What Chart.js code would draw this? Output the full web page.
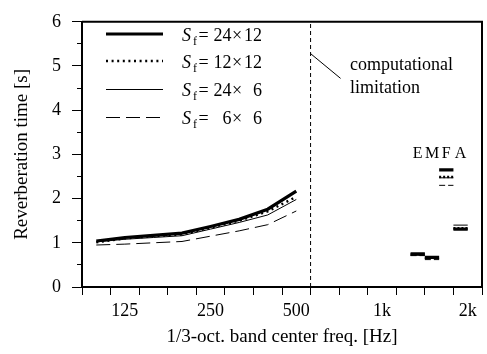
<!DOCTYPE html>
<html><head><meta charset="utf-8">
<script src="https://cdn.jsdelivr.net/npm/chart.js@4/dist/chart.umd.min.js"></script>
<style>html,body{margin:0;padding:0;background:#fff}canvas{display:block}</style>
</head><body>
<canvas id="c" width="487" height="354"></canvas>
<script>
// 1/3-octave bands (x axis categories)
const bands = ['100','125','160','200','250','315','400','500','630','800','1k','1.25k','1.6k','2k'];
const shownTickLabels = ['125','250','500','1k','2k'];
const yTicks = [0,1,2,3,4,5,6];

// Simulated reverberation time [s] at 100 ... 500 Hz
const sim24x12 = [1.04, 1.12, 1.17, 1.22, 1.37, 1.53, 1.76, 2.17];
const sim12x12 = [1.01, 1.10, 1.15, 1.19, 1.34, 1.50, 1.71, 2.04];
const sim24x6  = [1.02, 1.08, 1.12, 1.16, 1.31, 1.46, 1.63, 1.98];
const sim6x6   = [0.95, 0.97, 1.00, 1.03, 1.15, 1.27, 1.41, 1.72];

// Short marks E, M, F, A
const emfaLabels = ['E','M','F','A'];
const emfa24x12 = [0.75, 0.67, 2.65, 1.31];
const emfa12x12 = [0.74, 0.66, 2.49, 1.33];
const emfa24x6  = [0.72, 0.65, 2.47, 1.40];
const emfa6x6   = [0.71, 0.62, 2.30, 1.31];

// legend texts
const legendA = ['24','12','24','6'];
const legendB = ['12','12','6','6'];

// computational limitation band edge (between 500 and 630)
const limitEdge = bands.indexOf('630');
const limitText = ['computational','limitation'];

const FONT = "'Liberation Serif','Times New Roman',serif";
const styles = [
  {w:3.2, dash:[]},
  {w:2.4, dash:[2,3.6]},
  {w:1, dash:[]},
  {w:1, dash:[14,6]}
];
const simSeries = [sim24x12, sim12x12, sim24x6, sim6x6];
const emfaSeries = [emfa24x12, emfa12x12, emfa24x6, emfa6x6];

const datasets = [];
simSeries.forEach((s, k) => {
  datasets.push({
    data: s.map((v, i) => ({x: i + 0.5, y: v})),
    borderColor: '#000', borderWidth: styles[k].w, borderDash: styles[k].dash,
    pointRadius: 0, tension: 0, fill: false
  });
});
const emfaStart = bands.indexOf('1.25k') + 0.5;
emfaSeries.forEach((s, k) => {
  s.forEach((v, i) => {
    datasets.push({
      data: [{x: emfaStart + 0.5 * i, y: v}, {x: emfaStart + 0.5 * i + 0.5, y: v}],
      borderColor: '#000', borderWidth: styles[k].w, borderDash: k === 3 ? [6,3] : (k === 1 ? [2,2] : []),
      pointRadius: 0, tension: 0
    });
  });
});
// limitation line
datasets.push({
  data: [{x: limitEdge, y: 0}, {x: limitEdge, y: 6}],
  borderColor: '#000', borderWidth: 1, borderDash: [4, 3], pointRadius: 0
});
// leader line
datasets.push({
  data: [{x: limitEdge, y: 5.28}, {x: limitEdge + 1.05, y: 4.72}],
  borderColor: '#000', borderWidth: 1, pointRadius: 0
});

const xTickVals = [];
for (let i = 0; i <= bands.length * 2; i++) xTickVals.push(i / 2);
const yTickVals = [];
for (let i = 0; i <= 12; i++) yTickVals.push(i / 2);

const extras = {
  id: 'extras',
  afterDatasetsDraw(chart) {
    const {ctx, chartArea: a, scales: {x, y}} = chart;
    ctx.save();
    // frame top/right
    ctx.strokeStyle = '#000'; ctx.lineWidth = 2;
    ctx.beginPath();
    ctx.moveTo(a.left, a.top); ctx.lineTo(a.right, a.top); ctx.lineTo(a.right, a.bottom);
    ctx.stroke();
    // legend
    const rows = [34, 61, 89, 117];
    rows.forEach((ry, k) => {
      const ly = styles[k].w < 2 ? ry + 0.5 : ry;
      ctx.beginPath();
      ctx.lineWidth = styles[k].w; ctx.setLineDash(styles[k].dash);
      ctx.moveTo(106, ly); ctx.lineTo(163, ly); ctx.stroke();
      ctx.setLineDash([]);
      ctx.fillStyle = '#000';
      ctx.textBaseline = 'alphabetic';
      ctx.textAlign = 'left';
      ctx.font = 'italic 18px ' + FONT;
      ctx.fillText('S', 182, ry + 7);
      ctx.font = '12px ' + FONT;
      ctx.fillText('f', 193, ry + 11);
      ctx.font = '18px ' + FONT;
      ctx.fillText('=', 198.5, ry + 7);
      ctx.textAlign = 'right';
      ctx.fillText(legendA[k], 231.5, ry + 7);
      ctx.textAlign = 'center';
      ctx.fillText('×', 237, ry + 7);
      ctx.textAlign = 'right';
      ctx.fillText(legendB[k], 262, ry + 7);
    });
    // annotation
    ctx.textAlign = 'left';
    ctx.font = '18px ' + FONT;
    ctx.fillText(limitText[0], 350, 70);
    ctx.fillText(limitText[1], 350, 93);
    // EMFA labels
    ctx.font = '16px ' + FONT;
    ctx.textAlign = 'center';
    emfaLabels.forEach((l, i) => {
      ctx.fillText(l, x.getPixelForValue(emfaStart + 0.5 * i + 0.25), 158);
    });
    ctx.restore();
  }
};

new Chart(document.getElementById('c'), {
  type: 'line',
  data: {datasets},
  plugins: [extras],
  options: {
    responsive: false, devicePixelRatio: 1, animation: false,
    layout: {padding: {left: 0, top: 16, right: 1.5, bottom: 0}},
    plugins: {legend: {display: false}, tooltip: {enabled: false}},
    elements: {line: {borderCapStyle: 'butt', borderJoinStyle: 'miter'}},
    scales: {
      x: {
        type: 'linear', min: 0, max: bands.length,
        afterBuildTicks: s => { s.ticks = xTickVals.map(v => ({value: v})); },
        afterFit: s => { s.height = 67; },
        border: {color: '#000', width: 2},
        grid: {drawOnChartArea: false, tickLength: 8, tickWidth: 1,
               tickColor: c => (c.tick && Number.isInteger(c.tick.value)) ? '#000' : 'rgba(0,0,0,0)'},
        ticks: {autoSkip: false, maxRotation: 0, padding: 5, color: '#000',
                font: {family: FONT, size: 18},
                callback: v => {
                  if (Number.isInteger(v)) return '';
                  const lab = bands[Math.floor(v)];
                  return shownTickLabels.includes(lab) ? lab : '';
                }},
        title: {display: true, text: '1/3-oct. band center freq. [Hz]', color: '#000',
                font: {family: FONT, size: 19}, padding: {top: 0, bottom: 6}}
      },
      y: {
        type: 'linear', min: 0, max: 6,
        afterBuildTicks: s => { s.ticks = yTickVals.map(v => ({value: v})); },
        afterFit: s => { s.width = 82; },
        border: {color: '#000', width: 2},
        grid: {drawOnChartArea: false, tickLength: 10, tickWidth: 1, tickColor: '#000',
               tickBorderDash: c => (c.tick && Number.isInteger(c.tick.value)) ? [] : [0, 5, 30]},
        ticks: {autoSkip: false, padding: 11, color: '#000',
                font: {family: FONT, size: 18},
                callback: v => yTicks.includes(v) ? String(v) : ''},
        title: {display: true, text: 'Reverberation time [s]', color: '#000',
                font: {family: FONT, size: 19}, padding: {top: 11, bottom: 0}}
      }
    }
  }
});
</script>
</body></html>
